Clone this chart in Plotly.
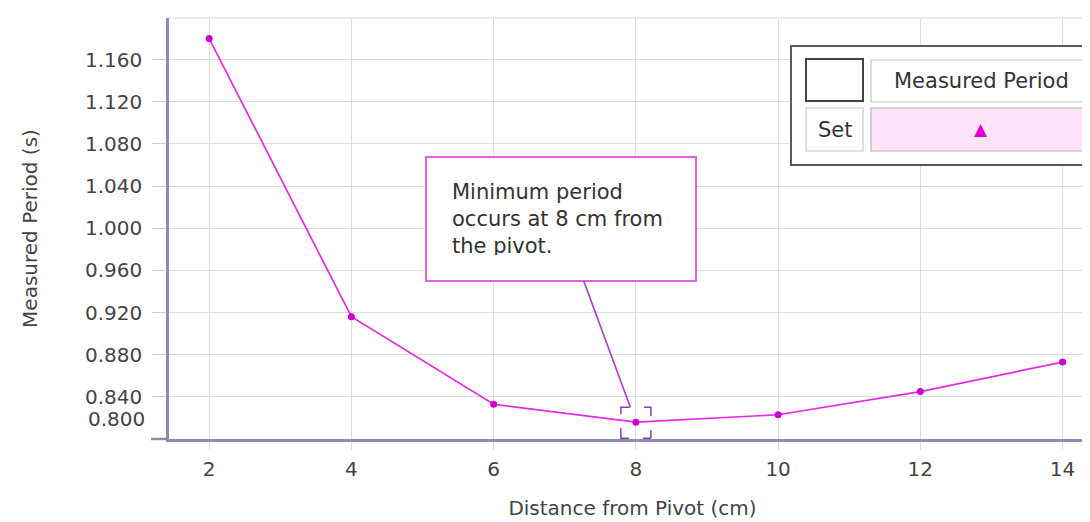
import plotly.graph_objects as go

# ---- data ----
distance_cm = [2, 4, 6, 8, 10, 12, 14]
period_s = [1.180, 0.916, 0.833, 0.816, 0.823, 0.845, 0.873]
y_tick_vals = [0.800, 0.840, 0.880, 0.920, 0.960, 1.000, 1.040, 1.080, 1.120, 1.160]
x_tick_vals = [2, 4, 6, 8, 10, 12, 14]
series_name = "Measured Period"
legend_header = "Set"
note_text = "Minimum period<br>occurs at 8 cm from<br>the pivot."
x_title = "Distance from Pivot (cm)"
y_title = "Measured Period (s)"

# ---- layout geometry ----
W, H = 1090, 522
ML, MR, MT, MB = 161, 2, 10, 91
PW, PH = W - ML - MR, H - MT - MB
FONT = "DejaVu Sans"
FS = 20


def px(X):
    return (X - ML) / PW


def py(Y):
    return (H - MB - Y) / PH


fig = go.Figure()
fig.add_trace(go.Scatter(
    x=distance_cm, y=period_s, mode="lines+markers", name=series_name,
    line=dict(color="#e629e6", width=1.7),
    marker=dict(color="#d000d0", size=7, symbol="circle"),
    showlegend=False,
))

min_i = period_s.index(min(period_s))
shapes = []
# dashed bracket square around the minimum
shapes.append(dict(
    type="rect", xref="x", yref="y",
    xsizemode="pixel", ysizemode="pixel",
    xanchor=distance_cm[min_i], yanchor=period_s[min_i],
    x0=-15, x1=15, y0=-16, y1=15,
    line=dict(color="#8a3cb0", width=1.5, dash="8px,14px,8px,0px"),
))
# faint top border
shapes.append(dict(type="line", xref="paper", yref="paper", x0=0, x1=1, y0=1, y1=1,
                   line=dict(color="#d8d8f0", width=1)))
# x axis line extension left of y axis
shapes.append(dict(type="line", xref="paper", yref="paper", x0=px(143), x1=0, y0=0, y1=0,
                   line=dict(color="#8c8cae", width=2.5)))


# legend-like table (top right)
def rect(x0, y0, x1, y1, color, width, fill="rgba(0,0,0,0)"):
    shapes.append(dict(type="rect", xref="paper", yref="paper",
                       x0=px(x0), x1=px(x1), y0=py(y1), y1=py(y0),
                       line=dict(color=color, width=width), fillcolor=fill, layer="above"))


rect(783, 38, 1088, 157, "#5a5a5a", 2, "white")
rect(798, 51, 855, 93, "#444444", 2)
rect(863, 52, 1083, 94, "#c8c8c8", 1.2)
rect(798, 100, 855, 143, "#c8c8c8", 1.2)
rect(863, 100, 1083, 143, "#b8b8b8", 1.2, "#fde4fb")

annotations = [
    dict(text=series_name, xref="paper", yref="paper", x=px(973), y=py(73),
         xanchor="center", yanchor="middle",
         showarrow=False, font=dict(family=FONT, size=21, color="#333333")),
    dict(text=legend_header, xref="paper", yref="paper", x=px(826.5), y=py(121.5),
         xanchor="center", yanchor="middle",
         showarrow=False, font=dict(family=FONT, size=21, color="#333333")),
    dict(text="▲", xref="paper", yref="paper", x=px(973), y=py(121),
         xanchor="center", yanchor="middle",
         showarrow=False, font=dict(family=FONT, size=17, color="#e000d0")),
    # shifted bottom tick label
    dict(text=f"{y_tick_vals[0]:.3f}", xref="paper", yref="y", x=0, y=y_tick_vals[0],
         xanchor="right", yanchor="middle", xshift=-22, yshift=20, showarrow=False,
         font=dict(family=FONT, size=FS, color="#444444")),
    # note callout
    dict(text=note_text, x=distance_cm[min_i], y=period_s[min_i], xref="x", yref="y",
         showarrow=True, arrowhead=0, arrowwidth=1.6, arrowcolor="#b040c8",
         ax=-75, ay=-203, standoff=16, align="left",
         width=218, height=72, borderpad=25, borderwidth=2, bordercolor="#e060e0",
         bgcolor="white", font=dict(family=FONT, size=21, color="#333333")),
]

fig.update_layout(
    width=W, height=H,
    margin=dict(l=ML, r=MR, t=MT, b=MB, autoexpand=False),
    paper_bgcolor="white", plot_bgcolor="white",
    font=dict(family=FONT, size=FS, color="#444444"),
    shapes=shapes, annotations=annotations,
    showlegend=False,
)
fig.update_xaxes(
    range=[1.435, 14.47], tickvals=x_tick_vals,
    ticks="outside", ticklen=8, tickcolor="#dcdce4", tickwidth=1,
    showgrid=True, gridcolor="#dcdce4", gridwidth=1, zeroline=False,
    showline=True, linecolor="#8c8cae", linewidth=2.5,
    tickfont=dict(family=FONT, size=FS, color="#444444"), ticklabelstandoff=2,
    title=dict(text=x_title, font=dict(family=FONT, size=FS, color="#444444"), standoff=22),
    automargin=False,
)
fig.update_yaxes(
    range=[0.8, 1.1995], tickvals=y_tick_vals[1:], tickformat=".3f",
    ticks="outside", ticklen=14, tickcolor="#cfcfcf", tickwidth=1,
    showgrid=True, gridcolor="#dcdce4", gridwidth=1, zeroline=False,
    showline=True, linecolor="#8c8cae", linewidth=2.5,
    tickfont=dict(family=FONT, size=FS, color="#444444"), ticklabelstandoff=6,
    title=dict(text=y_title, font=dict(family=FONT, size=FS, color="#444444"), standoff=42),
    automargin=False,
)

fig.write_html("out.html")
